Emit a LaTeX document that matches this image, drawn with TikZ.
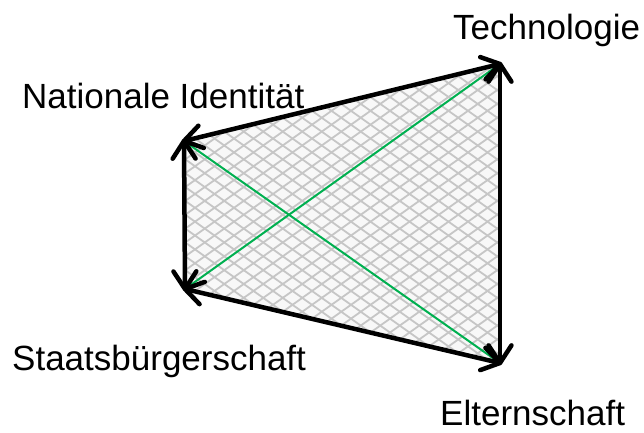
\documentclass[tikz,border=0pt]{standalone}
\usepackage{fontspec}
\setmainfont{Liberation Sans}
\usetikzlibrary{calc}
\definecolor{diaggreen}{RGB}{0,176,80}
\definecolor{hatchgray}{RGB}{198,198,198}
\definecolor{hatchbg}{RGB}{248,248,248}
\begin{document}
\begin{tikzpicture}[x=1pt,y=-1pt,
  lbl/.style={inner sep=0pt,anchor=base west,font=\fontsize{35}{42}\selectfont},
  edgeline/.style={line width=4.5pt,black,shorten <=2pt,shorten >=2pt},
  chevron/.style={line width=4.5pt,black,line cap=round,line join=round},
  diag/.style={line width=2pt,diaggreen},
  hatchline/.style={line width=1.8pt,hatchgray}]
\useasboundingbox (0,0) rectangle (644,432);
\coordinate (NI) at (184,141);
\coordinate (T) at (500,64);
\coordinate (E) at (500,363);
\coordinate (S) at (185,289);
\fill[hatchbg] (NI)--(T)--(E)--(S)--cycle;
\begin{scope}
\clip (NI)--(T)--(E)--(S)--cycle;
\foreach \k in {-20,...,24} \draw[hatchline] ({19.5*\k},0) -- ++(563,400);
\foreach \k in {12,...,56} \draw[hatchline] ({19.5*\k},0) -- ++(-563,400);
\end{scope}
\draw[diag] (NI) -- (E);
\draw[diag] (S) -- (T);
\foreach \a/\b in {NI/T, T/E, E/S, S/NI} {
  \draw[edgeline] (\a) -- (\b);
  \draw[chevron] ($(\b)!21pt!33:(\a)$) -- (\b) -- ($(\b)!21pt!-33:(\a)$);
  \draw[chevron] ($(\a)!21pt!33:(\b)$) -- (\a) -- ($(\a)!21pt!-33:(\b)$);
}
\node[lbl] (lT) at (453,39) {Technologie};
\node[lbl] (lNI) at (22,108) {Nationale Identität};
\node[lbl] (lS) at (12,370) {Staatsbürgerschaft};
\node[lbl] (lE) at (440,425) {Elternschaft};
\end{tikzpicture}
\end{document}
